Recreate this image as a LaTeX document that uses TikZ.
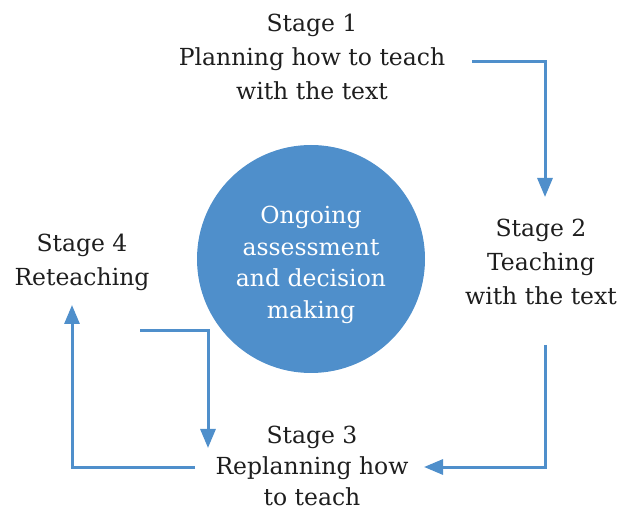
\documentclass[tikz,border=0pt]{standalone}
\usepackage{fontspec}
\setmainfont{DejaVu Serif}
\usetikzlibrary{arrows.meta}
\definecolor{cycleblue}{HTML}{4F8FCB}
\definecolor{stagetext}{HTML}{1E1E1E}
\tikzset{
  stagelabel/.style={align=center, text=stagetext, inner sep=0pt, font=\fontsize{23.5}{34}\selectfont},
  cyclearrow/.style={draw=cycleblue, line width=3pt, -{Triangle[width=15pt,length=19pt]}}
}

\begin{document}
\begin{tikzpicture}[x=1pt, y=-1pt]
\useasboundingbox (0,0) rectangle (624,510);
\node[circle, fill=cycleblue, minimum size=228pt, inner sep=0pt,
  label={[align=center, text=white, yshift=-6pt, font=\fontsize{23.5}{31.5}\selectfont]center:{Ongoing\\assessment\\and decision\\making}}] (assess) at (311,259) {};
\node[stagelabel] (stageone) at (312,57) {Stage 1\\Planning how to teach\\with the text};
\node[stagelabel] (stagetwo) at (541,262) {Stage 2\\Teaching\\with the text};
\node[stagelabel, font=\fontsize{23.5}{31}\selectfont] (stagethree) at (312,466) {Stage 3\\Replanning how\\to teach};
\node[stagelabel] (stagefour) at (82,262) {Stage 4\\Reteaching};
\coordinate (onestart) at (472,62);
\coordinate (oneend) at (545,197);
\coordinate (twostart) at (545,345);
\coordinate (twoend) at (424,467);
\coordinate (threestart) at (195,467);
\coordinate (threeend) at (72,305);
\coordinate (fourstart) at (140,331);
\coordinate (fourend) at (208,448);
\draw[cyclearrow] (onestart) -| (oneend);
\draw[cyclearrow] (twostart) |- (twoend);
\draw[cyclearrow] (threestart) -| (threeend);
\draw[cyclearrow] (fourstart) -| (fourend);
\end{tikzpicture}
\end{document}
